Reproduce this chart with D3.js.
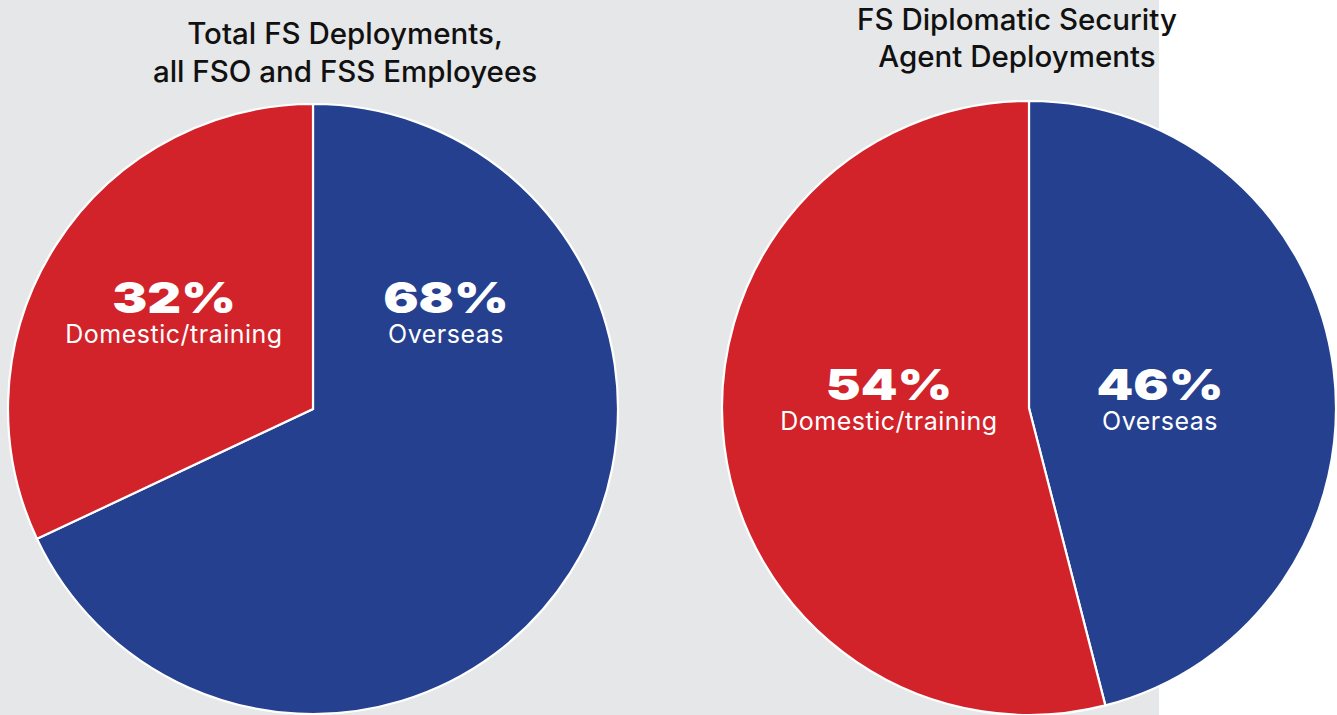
<!DOCTYPE html>
<html><head><meta charset="utf-8">
<script src="https://cdn.jsdelivr.net/npm/d3@7"></script>
<style>
html,body{margin:0;padding:0;background:#fff;}
svg{display:block;}
</style></head>
<body>
<script>
// ---- data ----
const categories = ["Overseas", "Domestic/training"];
const totalValues = [68, 32];
const dsValues = [46, 54];
const chartTitles = [["Total FS Deployments,", "all FSO and FSS Employees"], ["FS Diplomatic Security", "Agent Deployments"]];
const colors = ["#25408f", "#d2232a"];

// ---- layout ----
const W = 1337, H = 715;
const svg = d3.select("body").append("svg").attr("width", W).attr("height", H);
svg.append("rect").attr("x", 0).attr("y", 0).attr("width", 1159).attr("height", H).attr("fill", "#e6e7e8");

const pies = [
  {values: totalValues, title: chartTitles[0], cx: 313, cy: 409, r: 305, titleX: 345, titleY: [44, 82],
   labelPos: [[446, 313], [174, 313]]},
  {values: dsValues, title: chartTitles[1], cx: 1029, cy: 408, r: 307, titleX: 1017, titleY: [30, 67],
   labelPos: [[1160, 400], [889, 400]]}
];

const pieGen = d3.pie().sort(null).startAngle(0).endAngle(2 * Math.PI);

pies.forEach(p => {
  const g = svg.append("g").attr("transform", `translate(${p.cx},${p.cy})`);
  const arc = d3.arc().innerRadius(0).outerRadius(p.r);
  const arcs = pieGen(p.values);
  g.selectAll("path").data(arcs).enter().append("path")
    .attr("d", arc)
    .attr("fill", (d, i) => colors[i])
    .attr("stroke", "#fff").attr("stroke-width", 2.2).attr("stroke-linejoin", "miter");

  // titles
  p.title.forEach((t, i) => {
    svg.append("text").attr("x", p.titleX).attr("y", p.titleY[i])
      .attr("text-anchor", "middle")
      .attr("font-family", "Inter, 'Noto Sans', sans-serif")
      .attr("font-weight", 500)
      .attr("font-size", 29.5)
      .attr("letter-spacing", 0)
      .attr("fill", "#111")
      .text(t);
  });

  // labels
  arcs.forEach((a, i) => {
    const [lx, ly] = p.labelPos[i];
    svg.append("text")
      .attr("transform", `translate(${lx},${ly}) scale(1.22,1)`)
      .attr("text-anchor", "middle")
      .attr("font-family", "Inter, 'Noto Sans', sans-serif")
      .attr("font-weight", 900)
      .attr("font-size", 43)
      .attr("fill", "#fff")
      .text(p.values[i] + "%");
    svg.append("text").attr("x", lx).attr("y", ly + 30)
      .attr("text-anchor", "middle")
      .attr("font-family", "Inter, 'Noto Sans', sans-serif")
      .attr("font-weight", 400)
      .attr("font-size", 25)
      .attr("letter-spacing", 0.5)
      .attr("fill", "#fff")
      .text(categories[i]);
  });
});
</script>
</body></html>
